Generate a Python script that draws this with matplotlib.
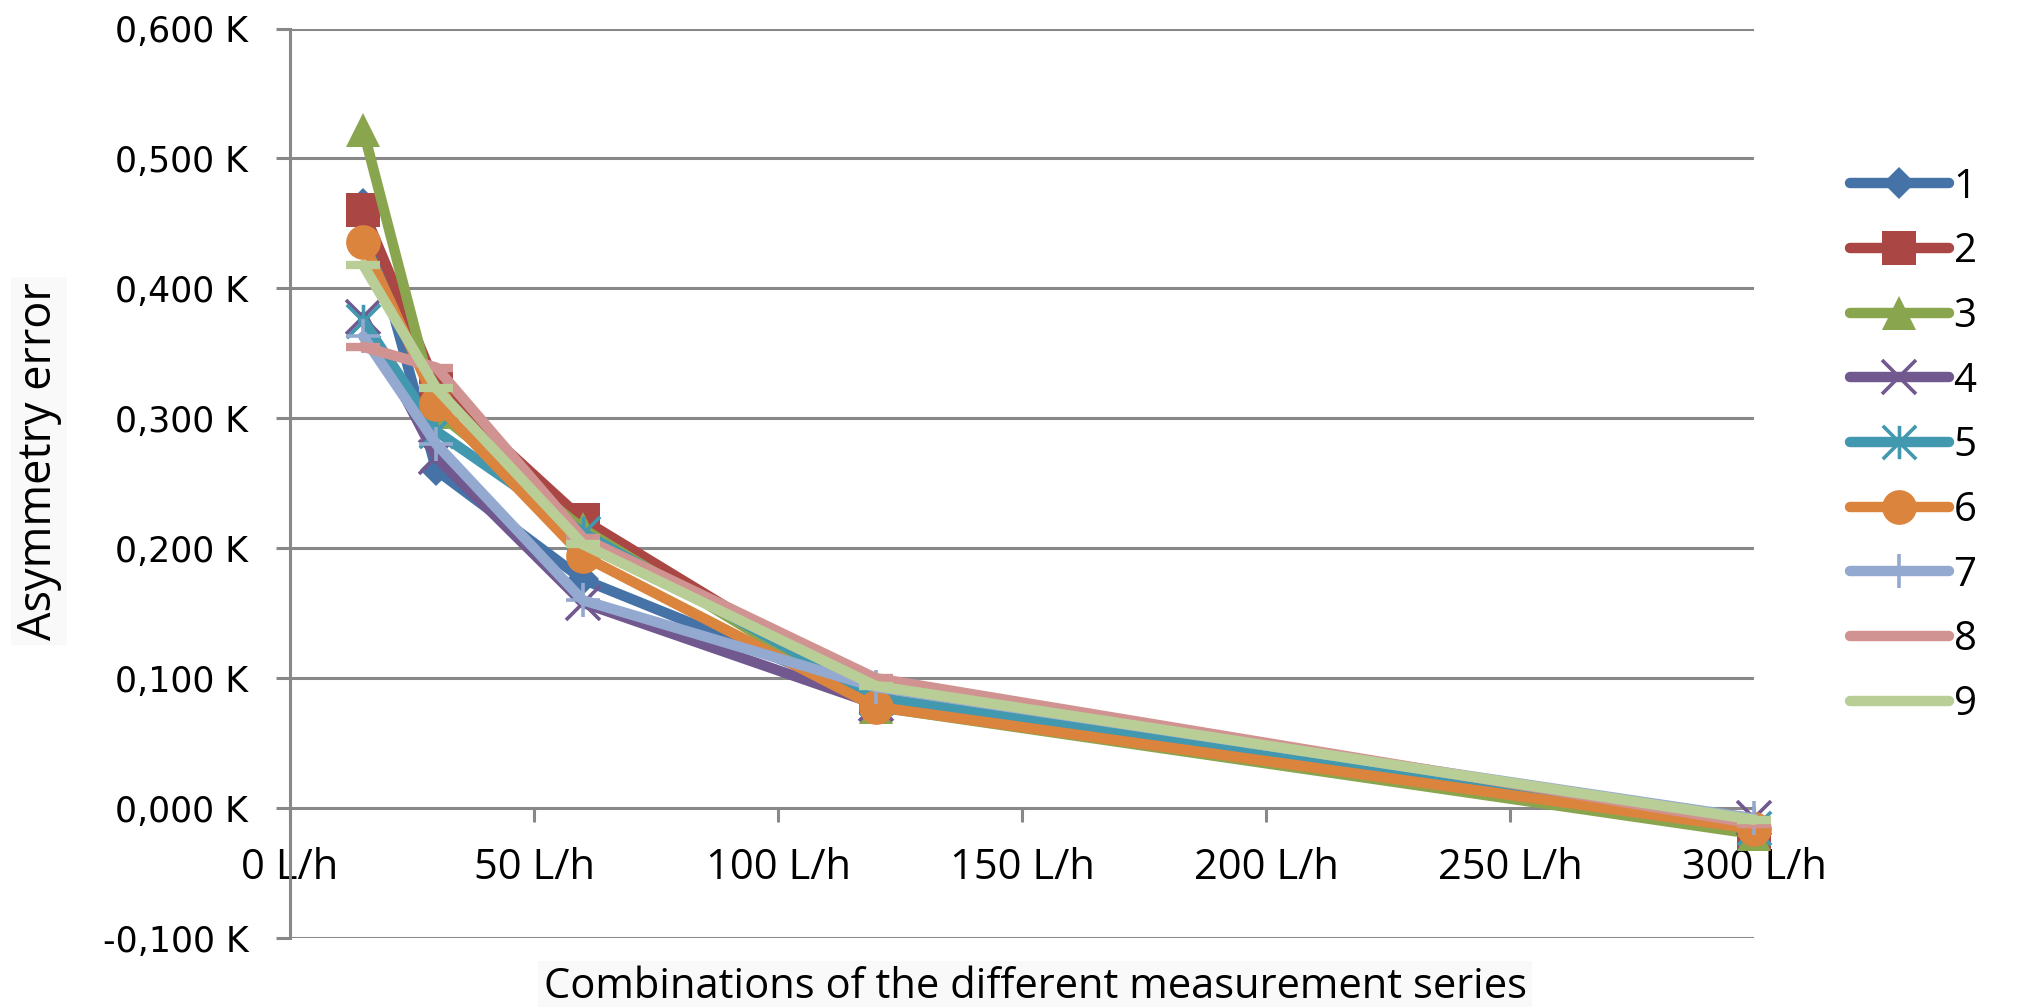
import matplotlib
matplotlib.use("Agg")
import matplotlib.pyplot as plt
from matplotlib.path import Path
from matplotlib.ticker import FuncFormatter

# ---- data ----
flow = [15, 30, 60, 120, 300]
series_names = ["1", "2", "3", "4", "5", "6", "7", "8", "9"]
s1 = [0.465, 0.260, 0.176, 0.085, -0.015]
s2 = [0.460, 0.325, 0.222, 0.085, -0.019]
s3 = [0.522, 0.305, 0.215, 0.078, -0.020]
s4 = [0.378, 0.270, 0.158, 0.080, -0.008]
s5 = [0.375, 0.290, 0.212, 0.085, -0.015]
s6 = [0.436, 0.311, 0.194, 0.078, -0.016]
s7 = [0.363, 0.280, 0.160, 0.093, -0.008]
s8 = [0.355, 0.339, 0.208, 0.100, -0.012]
s9 = [0.418, 0.323, 0.203, 0.094, -0.009]
all_series = [s1, s2, s3, s4, s5, s6, s7, s8, s9]

x_ticks = [0, 50, 100, 150, 200, 250, 300]
y_ticks = [-0.1, 0.0, 0.1, 0.2, 0.3, 0.4, 0.5, 0.6]

colors = ["#4572A7", "#AA4643", "#89A54E", "#71588F", "#4198AF",
          "#DB843D", "#93A9CF", "#D19392", "#B9CD96"]

# asterisk marker (x with vertical bar)
ast = Path([(-0.5, -0.5), (0.5, 0.5), (-0.5, 0.5), (0.5, -0.5), (0, -0.5), (0, 0.5)],
           [Path.MOVETO, Path.LINETO, Path.MOVETO, Path.LINETO, Path.MOVETO, Path.LINETO])

marker_specs = [
    dict(marker="D", markersize=16, mew=0),
    dict(marker="s", markersize=24, mew=0),
    dict(marker="^", markersize=25, mew=0),
    dict(marker="x", markersize=24, mew=2.6),
    dict(marker=ast, markersize=24, mew=2.6),
    dict(marker="o", markersize=25, mew=0),
    dict(marker="+", markersize=24, mew=2.6),
    dict(marker="_", markersize=25, mew=6),
    dict(marker="_", markersize=25, mew=6),
]

W, H = 2029, 1007
fig = plt.figure(figsize=(W / 100, H / 100), dpi=100)
ax = fig.add_axes([290 / W, 1 - 938 / H, (1754 - 290) / W, (938 - 28.5) / H])

grid_c = "#888888"
for yv in y_ticks:
    if yv != 0.0:
        ax.axhline(yv, color=grid_c, lw=2.2, zorder=0)

handles = []
for vals, c, ms in zip(all_series, colors, marker_specs):
    line, = ax.plot(flow, vals, color=c, lw=7.5, solid_joinstyle="round",
                    solid_capstyle="round",
                    marker=ms["marker"], markersize=ms["markersize"],
                    markerfacecolor=c, markeredgecolor=c, markeredgewidth=ms["mew"],
                    clip_on=False, zorder=3)
    handles.append(line)

ax.set_xlim(0, 300)
ax.set_ylim(-0.1, 0.6)

for sp in ["top", "right"]:
    ax.spines[sp].set_visible(False)
ax.spines["left"].set_color(grid_c)
ax.spines["left"].set_linewidth(2.2)
ax.spines["bottom"].set_position(("data", 0.0))
ax.spines["bottom"].set_color(grid_c)
ax.spines["bottom"].set_linewidth(2.2)

ax.set_xticks(x_ticks)
ax.set_xticklabels([f"{v} L/h" for v in x_ticks], fontfamily="Open Sans", fontsize=30)
ax.set_yticks(y_ticks)
ax.yaxis.set_major_formatter(FuncFormatter(lambda v, p: (f"{v:.3f} K").replace(".", ",")))
for lab in ax.get_yticklabels():
    lab.set_fontfamily("DejaVu Sans")
    lab.set_fontsize(25)
ax.tick_params(axis="y", length=10, width=2.2, color=grid_c, pad=20, labelcolor="black")
ax.tick_params(axis="x", length=10, width=2.2, color=grid_c, pad=18, direction="out",
               labelcolor="black")

leg = fig.legend(handles, series_names, loc="center left",
                 bbox_to_anchor=(1850 / W, 1 - 446 / H), frameon=False,
                 prop={"family": "Open Sans", "size": 29},
                 handlelength=2.45, handletextpad=0.12, labelspacing=0.6,
                 borderpad=0, borderaxespad=0, numpoints=1)

fig.text(1035 / W, 1 - 987 / H, "Combinations of the different measurement series",
         ha="center", va="center", fontfamily="Open Sans", fontsize=30,
         bbox=dict(facecolor="#f9f9f9", edgecolor="none", pad=4))
fig.text(39 / W, 1 - 461 / H, "Asymmetry error", rotation=90,
         ha="center", va="center", fontfamily="Open Sans", fontsize=32.5,
         bbox=dict(facecolor="#f9f9f9", edgecolor="none", pad=4))

fig.savefig("out.png", dpi=100, facecolor="white")
